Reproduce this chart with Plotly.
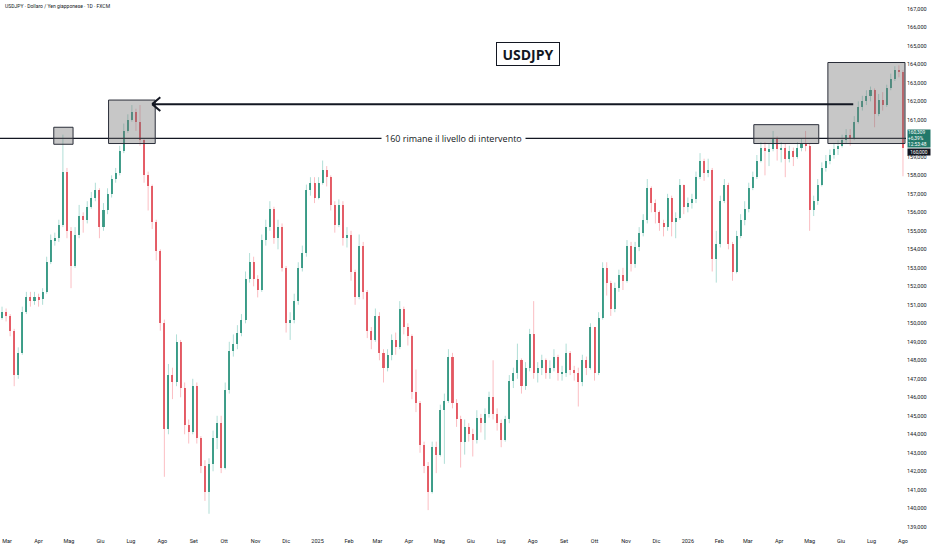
import pandas as pd
import plotly.graph_objects as go

# USDJPY 1D (FXCM) - one candle every 4 days
start_date = '2024-02-25'
first_open = 150.3

close = [
    150.6, 150.4, 149.6, 147.2, 148.4, 150.6, 151.4, 151.2, 151.4, 151.3,
    151.7, 153.3, 154.5, 154.6, 155.3, 158.2, 155.0, 153.1, 154.8, 155.8,
    155.6, 156.3, 156.8, 157.2, 155.2, 156.1, 157.0, 157.8, 158.1, 159.3,
    160.4, 161.0, 161.4, 160.9, 159.9, 158.0, 157.4, 155.5, 153.9, 150.0,
    144.3, 147.2, 146.8, 149.0, 146.5, 144.5, 144.1, 146.6, 143.8, 142.3,
    140.9, 142.4, 143.8, 144.6, 142.2, 146.4, 148.5, 148.9, 149.5, 150.2,
    152.4, 153.3, 152.4, 151.8, 154.5, 155.2, 156.2, 154.6, 155.2, 153.0,
    150.0, 150.2, 151.2, 153.0, 153.8, 157.2, 157.6, 156.8, 157.6, 158.3,
    157.9, 156.4, 155.3, 156.4, 154.6, 154.8, 152.8, 151.4, 154.2, 151.7,
    149.6, 149.1, 150.4, 148.4, 147.6, 148.3, 149.1, 148.7, 150.8, 149.8,
    149.3, 146.3, 145.7, 143.4, 142.3, 140.9, 143.3, 142.9, 145.3, 145.8,
    148.2, 145.7, 144.8, 143.6, 144.4, 144.0, 143.7, 144.9, 144.6, 145.1,
    146.0, 145.1, 144.6, 143.7, 144.8, 146.9, 147.3, 148.0, 146.6, 147.6,
    149.4, 147.3, 147.6, 148.0, 147.3, 147.6, 148.2, 147.3, 147.3, 148.4,
    147.5, 147.3, 146.8, 148.0, 147.6, 149.8, 147.3, 150.3, 153.0, 152.2,
    150.8, 151.9, 152.6, 152.3, 154.2, 153.2, 154.1, 154.9, 155.6, 157.3,
    156.5, 156.0, 155.4, 155.2, 156.8, 155.5, 155.7, 157.5, 156.3, 156.5,
    156.7, 157.9, 158.8, 158.1, 158.3, 153.5, 154.3, 156.6, 157.5, 154.3,
    152.8, 154.7, 155.6, 156.2, 157.3, 157.9, 158.8, 159.5, 159.3, 159.4,
    160.0, 159.4, 159.5, 158.9, 159.3, 159.0, 159.5, 159.7, 159.6, 156.1,
    156.6, 157.5, 158.4, 158.8, 159.1, 159.4, 159.6, 159.9, 160.2, 160.0,
    160.9, 161.7, 162.0, 162.3, 162.6, 161.3, 162.1, 161.8, 162.7, 163.2,
    163.7, 163.6, 159.5,
]

high = [
    150.9, 150.8, 150.5, 149.7, 148.7, 150.9, 151.7, 151.7, 151.7, 151.6,
    151.9, 153.6, 154.8, 154.9, 155.6, 160.2, 158.4, 155.2, 155.2, 156.4,
    156.0, 156.6, 157.1, 157.6, 157.3, 156.5, 157.3, 158.0, 158.4, 159.6,
    160.8, 161.3, 161.8, 161.6, 161.8, 160.0, 158.2, 157.5, 155.6, 154.0,
    150.2, 147.8, 147.6, 149.4, 149.1, 146.8, 144.8, 147.0, 146.8, 143.9,
    142.6, 142.7, 144.2, 145.0, 145.0, 146.8, 149.0, 149.4, 149.9, 150.5,
    152.8, 153.8, 153.6, 152.6, 154.8, 155.6, 156.6, 156.3, 155.6, 155.4,
    153.1, 150.6, 151.6, 153.3, 154.2, 157.5, 157.9, 157.9, 157.9, 158.8,
    158.5, 158.0, 156.6, 156.7, 156.6, 155.2, 155.0, 152.9, 154.8, 154.4,
    151.8, 149.8, 150.8, 150.6, 148.6, 148.6, 149.4, 149.5, 151.2, 150.9,
    150.0, 149.4, 147.5, 145.8, 143.6, 142.5, 143.6, 143.6, 145.6, 146.2,
    148.6, 148.4, 145.9, 145.0, 144.8, 144.6, 144.3, 145.3, 145.1, 145.4,
    146.3, 148.0, 145.4, 144.8, 145.0, 147.2, 147.6, 148.9, 148.1, 147.9,
    149.7, 151.2, 147.9, 148.3, 148.1, 148.0, 148.6, 148.3, 147.7, 148.9,
    148.5, 147.7, 147.6, 148.3, 148.2, 150.0, 149.8, 150.6, 153.3, 153.3,
    152.3, 152.2, 152.9, 153.0, 154.5, 154.4, 154.4, 155.2, 155.9, 157.8,
    157.4, 156.7, 156.1, 155.6, 157.0, 156.9, 156.0, 157.8, 157.5, 156.8,
    157.0, 158.2, 159.2, 158.9, 158.9, 158.4, 155.0, 156.9, 157.8, 157.6,
    154.4, 155.0, 155.9, 156.6, 157.6, 158.2, 159.1, 159.8, 159.8, 159.7,
    160.4, 160.1, 159.8, 159.7, 159.6, 159.5, 159.8, 160.0, 160.4, 159.7,
    156.9, 157.8, 158.7, 159.1, 159.4, 159.7, 159.9, 160.2, 160.5, 160.5,
    161.2, 162.0, 162.3, 162.6, 162.8, 162.7, 162.4, 162.5, 162.9, 163.5,
    163.9, 163.95, 163.7,
]

low = [
    150.2, 150.1, 149.3, 146.6, 147.0, 148.3, 150.5, 150.9, 151.0, 150.9,
    151.0, 151.6, 153.2, 154.2, 154.4, 155.2, 154.6, 151.9, 153.0, 154.6,
    154.9, 155.4, 156.2, 156.6, 154.6, 155.0, 155.9, 156.8, 157.6, 158.0,
    159.2, 160.3, 160.9, 160.4, 159.6, 157.6, 156.1, 155.1, 153.4, 149.6,
    141.7, 144.0, 145.9, 146.6, 146.0, 144.0, 143.5, 144.0, 143.5, 141.9,
    140.4, 139.7, 142.0, 143.2, 141.9, 142.1, 146.2, 148.2, 148.6, 149.3,
    150.0, 152.2, 152.0, 151.4, 151.7, 154.2, 155.0, 154.3, 154.0, 152.8,
    149.5, 149.1, 150.0, 151.0, 152.8, 153.6, 156.9, 156.5, 156.7, 157.5,
    157.4, 156.1, 154.9, 155.2, 154.2, 154.1, 152.3, 151.0, 151.3, 151.3,
    149.2, 148.6, 149.0, 148.0, 146.8, 147.4, 148.0, 148.3, 148.6, 149.4,
    148.8, 145.9, 145.2, 143.0, 141.9, 139.9, 140.8, 141.9, 142.8, 142.4,
    145.7, 145.4, 144.4, 142.2, 142.9, 143.6, 142.8, 143.5, 144.1, 143.7,
    144.9, 144.8, 144.2, 143.3, 143.6, 144.6, 146.5, 147.0, 146.2, 146.4,
    147.4, 147.0, 146.8, 147.2, 147.0, 147.0, 147.4, 146.9, 146.9, 147.1,
    147.2, 146.9, 145.5, 146.6, 147.2, 147.5, 146.9, 147.2, 150.2, 151.5,
    150.4, 150.6, 151.7, 151.8, 152.2, 152.8, 153.0, 153.9, 154.7, 155.4,
    156.0, 155.4, 155.0, 154.7, 155.0, 154.7, 154.6, 155.6, 155.9, 156.0,
    156.2, 156.5, 157.8, 157.7, 157.9, 152.8, 152.2, 154.1, 156.5, 154.0,
    152.3, 152.7, 154.6, 155.3, 156.0, 157.2, 157.8, 158.7, 158.0, 158.5,
    159.3, 158.8, 158.7, 157.9, 158.7, 158.5, 158.9, 159.3, 159.3, 155.0,
    155.8, 156.4, 157.4, 158.2, 158.6, 158.9, 159.1, 159.5, 159.7, 159.6,
    159.9, 160.8, 161.5, 161.8, 162.0, 160.6, 161.2, 161.5, 161.7, 162.6,
    163.1, 163.3, 157.95,
]

# time axis labels (Italian)
month_labels = ['Mar', 'Apr', 'Mag', 'Giu', 'Lug', 'Ago', 'Set', 'Ott', 'Nov', 'Dic',
                '2025', 'Feb', 'Mar', 'Apr', 'Mag', 'Giu', 'Lug', 'Ago', 'Set', 'Ott', 'Nov', 'Dic',
                '2026', 'Feb', 'Mar', 'Apr', 'Mag', 'Giu', 'Lug', 'Ago']
# 160 sits under the last-price label, so it is left out of the scale
price_ticks = [p for p in range(139, 168) if p != 160]

df = pd.DataFrame({'close': close, 'high': high, 'low': low})
df['date'] = pd.date_range(start_date, periods=len(df), freq='4D')
df['open'] = df['close'].shift(1).fillna(first_open)
df['up'] = df['close'] >= df['open']

month_ticks = pd.date_range('2024-03-01', periods=len(month_labels), freq='MS')

up_body = '#4a9f8c'
down_body = '#e2666f'
up_wick = 'rgba(8,153,129,0.32)'
down_wick = 'rgba(242,54,69,0.32)'


def wick_xy(sub):
    xs, ys = [], []
    for d, h, l in zip(sub['date'], sub['high'], sub['low']):
        xs += [d, d, None]
        ys += [l, h, None]
    return xs, ys


fig = go.Figure()

# wicks
for flag, col in [(True, up_wick), (False, down_wick)]:
    wx, wy = wick_xy(df[df['up'] == flag])
    fig.add_trace(go.Scatter(x=wx, y=wy, mode='lines',
                             line=dict(color=col, width=1),
                             hoverinfo='skip'))

# bodies
body_base = df[['open', 'close']].min(axis=1)
body_size = (df['close'] - df['open']).abs().clip(lower=0.06)
fig.add_trace(go.Bar(
    x=df['date'], y=body_size, base=body_base,
    width=2.0 * 86400000,
    marker=dict(color=[up_body if u else down_body for u in df['up']], line=dict(width=0)),
    hoverinfo='skip'
))

box_fill = 'rgba(115,115,115,0.40)'
box_line = dict(color='#2a2e39', width=1)

shapes = [
    # 160 intervention level
    dict(type='line', xref='paper', x0=0, x1=1, yref='y', y0=160, y1=160,
         line=dict(color='#131722', width=1.2), layer='above'),
    # grey boxes
    dict(type='rect', x0='2024-04-16', x1='2024-05-05', y0=159.68, y1=160.6,
         fillcolor=box_fill, line=box_line, layer='above'),
    dict(type='rect', x0='2024-06-09', x1='2024-07-25', y0=159.72, y1=162.07,
         fillcolor=box_fill, line=box_line, layer='above'),
    dict(type='rect', x0='2026-03-07', x1='2026-05-10', y0=159.72, y1=160.74,
         fillcolor=box_fill, line=box_line, layer='above'),
    dict(type='rect', x0='2026-05-19', x1='2026-08-03', y0=159.72, y1=164.1,
         fillcolor=box_fill, line=box_line, layer='above'),
    # arrow back to the 2024 high
    dict(type='line', x0='2024-07-22', x1='2026-06-13', y0=161.85, y1=161.85,
         line=dict(color='#131722', width=2), layer='above'),
    dict(type='line', x0='2024-07-30', x1='2024-07-22', y0=162.22, y1=161.85,
         line=dict(color='#131722', width=2), layer='above'),
    dict(type='line', x0='2024-07-30', x1='2024-07-22', y0=161.48, y1=161.85,
         line=dict(color='#131722', width=2), layer='above'),
]

annotations = [
    dict(xref='paper', yref='paper', x=3 / 906, y=1 - 6.5 / 536, xanchor='left', yanchor='middle',
         text='USDJPY · Dollaro / Yen giapponese · 1D · FXCM', showarrow=False,
         font=dict(size=5, color='#131722')),
    dict(xref='paper', yref='paper', x=528 / 906, y=1 - 53.7 / 536, xanchor='center', yanchor='middle',
         text='<b>USDJPY</b>', showarrow=False, bgcolor='white', bordercolor='#131722',
         borderwidth=1, borderpad=2, width=58, height=18,
         font=dict(family='Open Sans', size=14, color='#131722')),
    dict(xref='paper', yref='y', x=453 / 906, y=160, xanchor='center', yanchor='middle',
         text='160 rimane il livello di intervento', showarrow=False, bgcolor='white', borderpad=3,
         font=dict(family='Open Sans', size=9, color='#131722')),
    dict(xref='paper', yref='paper', x=907 / 906, y=1 - 138 / 536, xanchor='left', yanchor='middle',
         text='160,309<br>+6,39%<br>12:53:48', showarrow=False, bgcolor='#22796a',
         width=22, height=17, align='left', borderpad=0,
         font=dict(size=4.8, color='white')),
    dict(xref='paper', yref='paper', x=907 / 906, y=1 - 152 / 536, xanchor='left', yanchor='middle',
         text='160,000', showarrow=False, bgcolor='#131722', width=22, height=6, borderpad=0,
         font=dict(size=4.8, color='white')),
]

fig.update_layout(
    width=932, height=550,
    margin=dict(l=0, r=26, t=0, b=14),
    paper_bgcolor='white', plot_bgcolor='white',
    showlegend=False,
    separators=',.',
    bargap=0,
    font=dict(family='Roboto', size=6, color='#131722'),
    shapes=shapes,
    annotations=annotations,
    xaxis=dict(type='date', range=['2024-02-23', '2026-08-04'],
               tickvals=month_ticks, ticktext=month_labels,
               showgrid=False, zeroline=False, showline=False, ticks='',
               tickfont=dict(size=5.5, color='#131722')),
    yaxis=dict(side='right', range=[138.5, 167.48], tickvals=price_ticks, tickformat='.3f',
               showgrid=False, zeroline=False, showline=False, ticks='',
               tickfont=dict(size=5.5, color='#131722')),
)

# drop the default page margin so the chart sits at the window's top-left corner
fig.write_html("out.html", config={'displayModeBar': False},
               post_script="document.body.style.margin='0';document.body.style.overflow='hidden';")
